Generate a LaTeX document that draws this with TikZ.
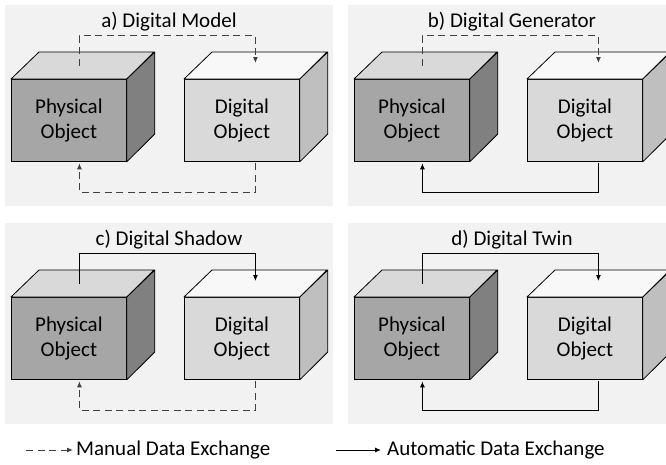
\documentclass[tikz,border=0pt]{standalone}
\usepackage{fontspec}
\setmainfont{Carlito}
\usetikzlibrary{arrows.meta,calc,positioning}

\definecolor{panelbg}{HTML}{F2F2F2}
\definecolor{physfront}{HTML}{A6A6A6}
\definecolor{phystop}{HTML}{D9D9D9}
\definecolor{physside}{HTML}{808080}
\definecolor{digifront}{HTML}{D9D9D9}
\definecolor{digitop}{HTML}{F8F8F8}
\definecolor{digiside}{HTML}{BFBFBF}
\definecolor{dashgray}{HTML}{404040}

\tikzset{
  front/.style={draw, line width=0.8pt, anchor=north west, minimum width=115pt,
    minimum height=82pt, inner sep=0pt, align=center,
    font=\fontsize{21}{25}\selectfont},
  face/.style={draw, line width=0.8pt, line join=round},
  title/.style={font=\fontsize{21}{25}\selectfont},
  link/.style={-{Latex[length=6pt,width=5pt]}, line width=1pt},
  manuallink/.style={link, draw=dashgray, dash pattern=on 7pt off 4.5pt},
  autolink/.style={link, draw=black},
  legendtext/.style={anchor=west, inner sep=0pt, font=\fontsize{21}{25}\selectfont}
}

\begin{document}
\begin{tikzpicture}[x=1pt,y=-1pt]
\useasboundingbox (0,0) rectangle (666,464);
% the four panels
\foreach \i/\dx/\dy/\ttl/\up/\dn in {
  a/0/0/{a) Digital Model}/manuallink/manuallink,
  b/343/0/{b) Digital Generator}/manuallink/autolink,
  c/0/218/{c) Digital Shadow}/autolink/manuallink,
  d/343/218/{d) Digital Twin}/autolink/autolink}{
\begin{scope}[shift={(\dx,\dy)}]
\fill[panelbg] (5,5) rectangle (333,206);
\node[title] (t\i) at (169,22) {\ttl};
% physical object
\node[front, fill=physfront] (p\i) at (11,79) {Physical\\Object};
\filldraw[face, fill=phystop] (p\i.north west) -- ++(28,-27) -- ++(115,0) -- (p\i.north east) -- cycle;
\filldraw[face, fill=physside] (p\i.north east) -- ++(28,-27) -- ++(0,82) -- (p\i.south east) -- cycle;
% digital object
\node[front, fill=digifront] (d\i) at (184,79) {Digital\\Object};
\filldraw[face, fill=digitop] (d\i.north west) -- ++(28,-27) -- ++(115,0) -- (d\i.north east) -- cycle;
\filldraw[face, fill=digiside] (d\i.north east) -- ++(28,-27) -- ++(0,82) -- (d\i.south east) -- cycle;
\coordinate (pt\i) at ($(p\i.north)+(10.5,-13.5)$);
\coordinate (pb\i) at ($(p\i.south)+(10.5,1.5)$);
\coordinate (dt\i) at ($(d\i.north)+(13.5,-16)$);
\coordinate (db\i) at ($(d\i.south)+(13.5,1.5)$);
\draw[\up] (pt\i) -- ++(0,-30) -| (dt\i);
\draw[\dn] (db\i) -- ++(0,29) -| (pb\i);
\end{scope}
}
% legend
\node[legendtext] (ml) at (76,450) {Manual Data Exchange};
\node[legendtext] (al) at (387,450) {Automatic Data Exchange};
\coordinate (ms) at (26,450);
\coordinate (as) at (336,450);
\draw[manuallink] (ms) -- ([xshift=-3pt]ml.west);
\draw[autolink] (as) -- ([xshift=-6pt]al.west);
\end{tikzpicture}
\end{document}
